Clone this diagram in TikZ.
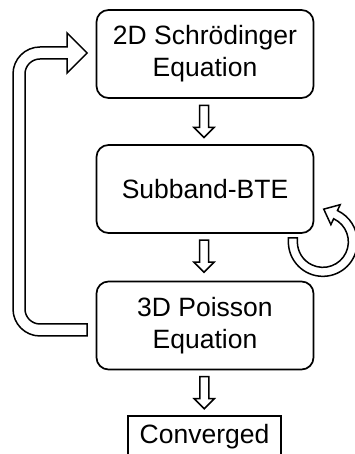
\documentclass[tikz,border=0pt]{standalone}
\usepackage{fontspec}
\setmainfont{Liberation Sans}
\usetikzlibrary{calc}

\tikzset{
  stage/.style={draw, line width=1.7pt, rounded corners=12pt,
    minimum width=217pt, minimum height=88pt, align=center,
    font=\fontsize{26.5}{32}\selectfont},
  endbox/.style={draw, line width=1.7pt, minimum width=153pt,
    minimum height=42pt, font=\fontsize{26.5}{32}\selectfont},
  hollow/.style={draw, line width=1.5pt, fill=white, line join=miter},
  pics/downarrow/.style={code={
    \draw[hollow] (-4.5,16) -- (-4.5,-6) -- (-10,-6) -- (0,-16)
      -- (10,-6) -- (4.5,-6) -- (4.5,16) -- cycle;
  }}
}

\begin{document}
\begin{tikzpicture}[x=1pt, y=1pt]
  \useasboundingbox (0,0) rectangle (355,454);
  \clip (0,0) rectangle (355,454);

  % solver stages
  \node[stage] (b1) at (205,400)   {2D Schr\"odinger\\Equation};
  \node[stage] (b2) at (205,265)   {Subband-BTE};
  \node[stage] (b3) at (205,128.5) {3D Poisson\\Equation};
  \node[endbox] (b4) at (204.5,17) {Converged};

  % forward flow
  \pic at ($(b1.south)!0.5!(b2.north)+(-1,0)$) {downarrow};
  \pic at ($(b2.south)!0.5!(b3.north)+(-1,1)$) {downarrow};
  \pic at ($(b3.south)!0.5!(b4.north)+(-0.5,0)$) {downarrow};

  % outer loop: Poisson back to Schroedinger
  \coordinate (ft) at ($(b3.west)+(-8.5,-4.5)$);
  \coordinate (fh) at ($(b1.west)+(-8.5,1)$);
  \draw[hollow] let \p1=(ft), \p2=(fh) in
    (\x1,\y1-6pt) -- (40pt,\y1-6pt)
    arc[start angle=270, end angle=180, radius=27pt]
    -- (13pt,\y2-21pt)
    arc[start angle=180, end angle=90, radius=27pt]
    -- (\x2-20pt,\y2+6pt) -- (\x2-20pt,\y2+20pt) -- (\x2,\y2)
    -- (\x2-20pt,\y2-20pt) -- (\x2-20pt,\y2-6pt) -- (40pt,\y2-6pt)
    arc[start angle=90, end angle=180, radius=15pt]
    -- (25pt,\y1+21pt)
    arc[start angle=180, end angle=270, radius=15pt]
    -- (\x1,\y1+6pt) -- cycle;

  % inner loop around the BTE solver
  \coordinate (lc) at ($(b2.south east)+(8.5,-8)$);
  \draw[hollow]
    ($(lc)+(-34.5pt,4pt)$) -- ($(lc)+(-34.5pt,0pt)$)
    arc[start angle=180, end angle=425, radius=34.5pt]
    -- ($(lc)+(65:41pt)$) -- ($(lc)+(0.9pt,32.7pt)$)
    -- ($(lc)+(65:19pt)$) -- ($(lc)+(65:25.5pt)$)
    arc[start angle=425, end angle=180, radius=25.5pt]
    -- ($(lc)+(-25.5pt,4pt)$) -- cycle;
\end{tikzpicture}
\end{document}
